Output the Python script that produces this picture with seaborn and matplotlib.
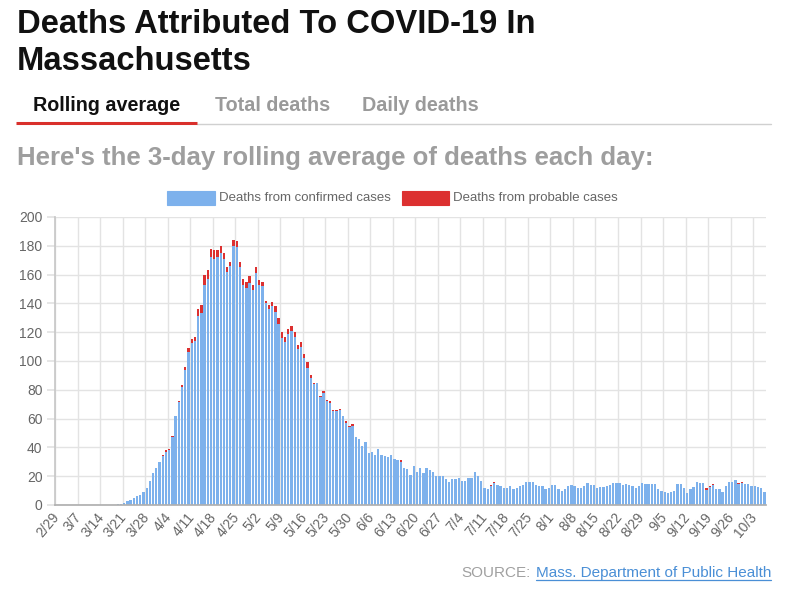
import matplotlib
matplotlib.use("Agg")
import matplotlib.pyplot as plt
from matplotlib.lines import Line2D
from matplotlib.patches import Rectangle
import pandas as pd
import seaborn as sns

W, H = 792, 596

# ---------------- data ----------------
tick_labels = ["2/29", "3/7", "3/14", "3/21", "3/28", "4/4", "4/11", "4/18", "4/25",
               "5/2", "5/9", "5/16", "5/23", "5/30", "6/6", "6/13", "6/20", "6/27",
               "7/4", "7/11", "7/18", "7/25", "8/1", "8/8", "8/15", "8/22", "8/29",
               "9/5", "9/12", "9/19", "9/26", "10/3"]

dates = pd.date_range("2020-02-29", "2020-10-06", freq="D")
day_labels = [f"{d.month}/{d.day}" for d in dates]

confirmed = ([0] * 18 +
             [0.3, 0.7, 1, 1.5, 2.5, 3.5, 5, 6, 7, 9, 12, 17, 22, 26, 30] +
             [34, 37, 38, 47.5, 61.5, 71.5, 82, 94, 106, 112.5, 114, 131, 133, 153, 157,
              172, 171, 172, 175, 171, 162, 166, 180, 179, 165, 153, 151, 154, 149, 161,
              153, 152, 140, 136, 138, 134, 126, 116, 113, 119, 121, 117, 108, 110, 102,
              95, 88, 84, 84.5, 75, 78, 72, 71, 65, 65, 66.3, 61.5, 57, 54, 55] +
             [47, 46, 41, 44, 36, 37, 35, 39, 35, 34, 33, 35, 32, 31] +
             [30.2] +
             [26, 25, 21, 27, 23, 26, 22, 26, 24, 23, 20, 20, 20, 18, 16, 18, 18, 19, 17,
              17, 19, 19, 23, 20, 17, 12, 11] +
             [13.2, 15.2] +
             [14, 13, 12, 12, 13, 11, 12, 13, 14, 16, 16, 16, 14, 13, 13, 11, 12, 14, 14,
              11, 10, 11, 13, 14, 13, 12, 12, 13, 15, 14, 14, 12, 12.5, 12.3, 13, 14, 15,
              15, 15, 14, 14.6, 14, 13, 12, 13, 15, 14.4, 14.4, 14.4, 14.4, 11, 10, 9,
              8.6, 9.3, 10, 14.4, 14.4, 12, 8.6, 11, 12.7, 16, 15.5, 15.5] +
             [10.6, 12.2, 13.6] +
             [11, 11, 8.8, 13, 16, 16, 17.4] +
             [14.7, 15.2] +
             [14.4, 14.4, 13.2, 13.2, 12.7, 11.6, 9.3])

probable = ([0] * 33 +
            [1, 1, 1, 0.5, 0.5, 0.5, 1, 2, 3, 2.5, 3, 5, 6, 7, 6, 6, 6, 5, 5, 4, 3, 3, 4, 4,
             4, 4, 4, 5, 4, 4, 3, 3, 2, 3, 3, 4, 4, 4, 4, 3, 3, 3, 3, 3, 3, 4, 2, 1, 0.5, 1,
             1, 1, 1, 1, 1, 0.7, 0.5, 1, 1, 1] +
            [0] * 14 + [0.8] + [0] * 27 + [0.8, 0.8] + [0] * 65 +
            [1, 1, 0.8] + [0] * 7 + [0.8, 1] + [0] * 7)

series_names = ["Deaths from confirmed cases", "Deaths from probable cases"]
y_ticks = [0, 20, 40, 60, 80, 100, 120, 140, 160, 180, 200]

# ---------------- style ----------------
BLUE = "#7db1ec"
RED = "#dc3030"
GRID = "#e3e3e3"
TXT = "#666666"

sns.set_theme(style="white")
plt.rcParams["font.family"] = ["Liberation Sans", "DejaVu Sans"]

fig = plt.figure(figsize=(W / 100, H / 100), dpi=100)


def fx(px):
    return px / W


def fy(py):
    return 1 - py / H


ax = fig.add_axes([fx(55), fy(505), (766 - 55) / W, (505 - 217) / H])

n = len(confirmed)
day_idx = list(range(n))
df = pd.DataFrame({
    "day": day_idx + day_idx,
    "deaths": confirmed + probable,
    "type": [series_names[0]] * n + [series_names[1]] * n,
})

sns.histplot(data=df, x="day", weights="deaths", hue="type",
             hue_order=[series_names[1], series_names[0]],
             multiple="stack", discrete=True, shrink=0.72,
             palette={series_names[0]: BLUE, series_names[1]: RED},
             alpha=1, linewidth=0, legend=False, ax=ax)

ax.set_xlim(-0.5, n - 0.5)
ax.set_ylim(0, 200)
ax.set_xlabel("")
ax.set_ylabel("")

tick_pos = [day_labels.index(t) for t in tick_labels]
ax.set_xticks(tick_pos)
ax.set_xticklabels(tick_labels, rotation=50, ha="right", va="center",
                   rotation_mode="anchor", fontsize=10, color=TXT)
ax.set_xticks([p - 0.5 for p in tick_pos], minor=True)
ax.set_yticks(y_ticks)
ax.set_yticklabels([str(v) for v in y_ticks], fontsize=10, color=TXT)

ax.tick_params(axis="x", which="major", length=0, pad=7)
ax.tick_params(axis="x", which="minor", length=0)
ax.tick_params(axis="y", length=6, color=GRID, pad=3, left=True)
ax.grid(True, axis="y", which="major", color=GRID, linewidth=1)
ax.grid(True, axis="x", which="minor", color=GRID, linewidth=1)
ax.set_axisbelow(True)
for s in ["top", "right"]:
    ax.spines[s].set_visible(False)
ax.spines["left"].set_color("#c8c8c8")
ax.spines["bottom"].set_color("#b0b0b0")

# ---------------- header texts ----------------
fig.text(fx(17), fy(33), "Deaths Attributed To COVID-19 In", fontsize=23.6,
         weight="bold", color="#111111", va="baseline", ha="left")
fig.text(fx(17), fy(70), "Massachusetts", fontsize=23.6,
         weight="bold", color="#111111", va="baseline", ha="left")

fig.text(fx(33), fy(111), "Rolling average", fontsize=14.2, weight="bold",
         color="#111111", va="baseline")
fig.text(fx(215), fy(111), "Total deaths", fontsize=14.2, weight="bold",
         color="#9a9a9a", va="baseline")
fig.text(fx(362), fy(111), "Daily deaths", fontsize=14.2, weight="bold",
         color="#9a9a9a", va="baseline")

fig.add_artist(Line2D([fx(197), fx(771)], [fy(124), fy(124)], color="#d0d0d0",
                      linewidth=1, transform=fig.transFigure))
fig.add_artist(Line2D([fx(16), fx(197)], [fy(123), fy(123)], color="#d9302c",
                      linewidth=2.2, transform=fig.transFigure, solid_capstyle="butt"))

fig.text(fx(17), fy(165), "Here's the 3-day rolling average of deaths each day:",
         fontsize=18.5, weight="bold", color="#9e9e9e", va="baseline")

# ---------------- legend ----------------
for (x0, x1, col, label, tx) in [(167, 215, BLUE, series_names[0], 219),
                                 (402, 449, RED, series_names[1], 453)]:
    fig.add_artist(Rectangle((fx(x0), fy(205)), (x1 - x0) / W, 14 / H,
                             facecolor=col, edgecolor=col, linewidth=0.8,
                             transform=fig.transFigure))
    fig.text(fx(tx), fy(198), label, fontsize=9.5, color=TXT,
             va="center", ha="left")

# ---------------- source ----------------
link = fig.text(fx(771), fy(577), "Mass. Department of Public Health", fontsize=11,
                color="#4a8fd6", ha="right", va="baseline")
fig.canvas.draw()
bb = link.get_window_extent()
fig.text(bb.x0 / W - fx(5), fy(577), "SOURCE:", fontsize=11, color="#a0a0a0",
         ha="right", va="baseline")
fig.add_artist(Line2D([bb.x0 / W, bb.x1 / W], [fy(579.5), fy(579.5)],
                      color="#4a8fd6", linewidth=0.9, transform=fig.transFigure))

fig.savefig("out.png", dpi=100)
